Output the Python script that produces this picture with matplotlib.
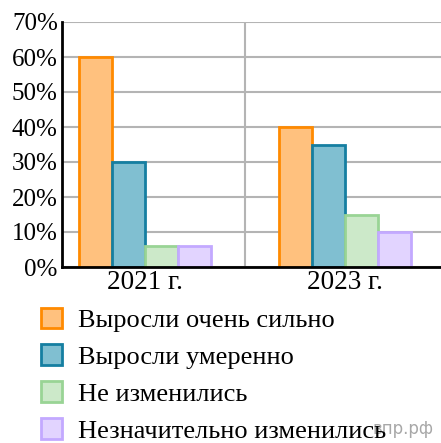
import matplotlib
matplotlib.use("Agg")
import matplotlib.pyplot as plt
from matplotlib.patches import Patch
from matplotlib.ticker import MultipleLocator, FuncFormatter

years = ["2021 г.", "2023 г."]
series = ["Выросли очень сильно", "Выросли умеренно", "Не изменились", "Незначительно изменились"]
values = [
    [60, 40],
    [30, 35],
    [6, 15],
    [6, 10],
]
fills = ["#FFC17E", "#80BFD1", "#CCE9C9", "#E2D4FF"]
edges = ["#FF8A00", "#157FA1", "#99D495", "#C3A9FF"]

plt.rcParams["font.family"] = ["Liberation Serif", "DejaVu Serif"]

fig = plt.figure(figsize=(4.41, 4.43), dpi=100)
ax = fig.add_axes([62 / 441, (443 - 267) / 443, 1 - 62 / 441, (267 - 22) / 443])

w = 0.165
for i, name in enumerate(series):
    xs = [k + (i - 1.5) * w for k in range(len(years))]
    ax.bar(xs, values[i], width=w, color=fills[i], edgecolor=edges[i], linewidth=2, zorder=3)

ax.set_ylim(0, 70)
ax.set_xlim(-0.4125, 1.4825)
ax.yaxis.set_major_locator(MultipleLocator(10))
ax.yaxis.set_major_formatter(FuncFormatter(lambda v, p: f"{v:.0f}%"))
ax.set_xticks(range(len(years)))
ax.set_xticklabels(years)
ax.set_xticks([0.5], minor=True)
ax.tick_params(axis="both", which="both", length=0, colors="black")
ax.tick_params(axis="y", pad=3, labelsize=18)
ax.tick_params(axis="x", pad=2, labelsize=19.5)

ax.grid(axis="y", color="#B4B4B4", linewidth=1.5, zorder=0)
ax.grid(axis="x", which="minor", color="#B4B4B4", linewidth=1.5, zorder=0)
for s in ["top", "right"]:
    ax.spines[s].set_visible(False)
for s in ["left", "bottom"]:
    ax.spines[s].set_linewidth(2)
    ax.spines[s].set_zorder(4)

fig.text(433 / 441, 5 / 443, "впр.рф", ha="right", va="bottom",
         fontsize=12, color="#A8A8A8", family="DejaVu Sans", zorder=0)

handles = [Patch(facecolor=fills[i], edgecolor=edges[i], linewidth=2) for i in range(len(series))]
fig.legend(handles, series, loc="upper left", bbox_to_anchor=(30 / 441, (443 - 297) / 443),
           frameon=False, fontsize=19, handlelength=0.8, handleheight=0.8,
           handletextpad=0.6, labelspacing=0.48, borderaxespad=0)

fig.savefig("out.png", dpi=100)
